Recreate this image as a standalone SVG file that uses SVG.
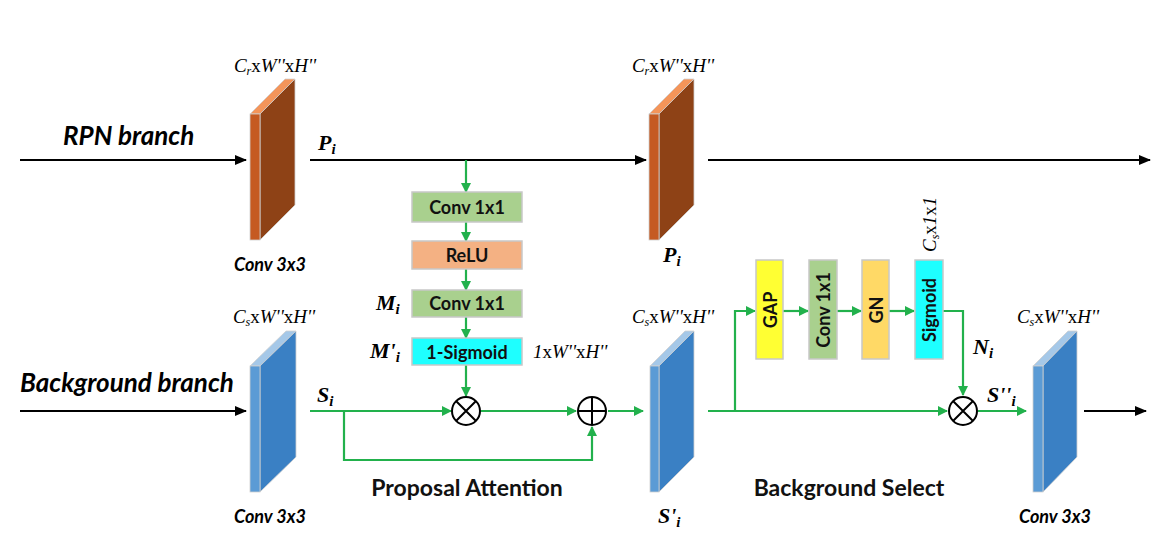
<svg xmlns="http://www.w3.org/2000/svg" width="1166" height="540" viewBox="0 0 1166 540">
<style>
.blk{stroke:#d0d0d0;stroke-width:0.8}
.of{fill:#C55A22}.os{fill:#8E4216}.ot{fill:#F4955A}
.bf{fill:#5B9BD5}.bs{fill:#3A80C4}.bt{fill:#A5C8E8}
.g{stroke:#22B14C;stroke-width:2.2;fill:none}
.k{stroke:#000;stroke-width:2;fill:none}
.box{stroke:#c8c8c8;stroke-width:1.5}
.bt1{font-family:"Lato","Open Sans",sans-serif;font-weight:bold;font-size:18px;fill:#111;text-anchor:middle;dominant-baseline:central}
.lab{font-family:"Lato","Open Sans",sans-serif;font-weight:bold;font-style:italic;fill:#000}
.ttl{font-family:"Lato","Open Sans",sans-serif;font-weight:bold;font-size:23px;fill:#111;text-anchor:middle}
.dim{font-family:"Liberation Serif",serif;font-size:19px;fill:#000}
.m{font-family:"Liberation Serif",serif;font-weight:bold;font-style:italic;font-size:22px;fill:#000}
.op{fill:#fff;stroke:#000;stroke-width:2}
</style>
<defs>
<marker id="ag" markerWidth="10" markerHeight="10" refX="9" refY="5" orient="auto" markerUnits="userSpaceOnUse"><path d="M0,0 L10,5 L0,10 Z" fill="#22B14C"/></marker>
<marker id="ak" markerWidth="12" markerHeight="10" refX="11" refY="5" orient="auto" markerUnits="userSpaceOnUse"><path d="M0,0 L12,5 L0,10 Z" fill="#000"/></marker>
</defs>

<g id="connectors">
<line class="k" x1="20" y1="160" x2="246" y2="160" marker-end="url(#ak)"/>
<line class="k" x1="310" y1="160" x2="646" y2="160" marker-end="url(#ak)"/>
<line class="k" x1="708" y1="160" x2="1150" y2="160" marker-end="url(#ak)"/>
<line class="k" x1="20" y1="411" x2="246" y2="411" marker-end="url(#ak)"/>
<line class="k" x1="1084" y1="411" x2="1146" y2="411" marker-end="url(#ak)"/>
<line class="g" x1="466" y1="160" x2="466" y2="192" marker-end="url(#ag)"/>
<line class="g" x1="466" y1="222" x2="466" y2="241" marker-end="url(#ag)"/>
<line class="g" x1="466" y1="269" x2="466" y2="290" marker-end="url(#ag)"/>
<line class="g" x1="466" y1="317" x2="466" y2="338" marker-end="url(#ag)"/>
<line class="g" x1="466" y1="365" x2="466" y2="396" marker-end="url(#ag)"/>
<line class="g" x1="310" y1="411" x2="451" y2="411" marker-end="url(#ag)"/>
<line class="g" x1="481" y1="411" x2="576" y2="411" marker-end="url(#ag)"/>
<polyline class="g" points="344,411 344,460 592,460 592,427" marker-end="url(#ag)"/>
<line class="g" x1="608" y1="411" x2="643" y2="411" marker-end="url(#ag)"/>
<line class="g" x1="708" y1="411" x2="947" y2="411" marker-end="url(#ag)"/>
<polyline class="g" points="735,411 735,311 755,311" marker-end="url(#ag)"/>
<line class="g" x1="783" y1="311" x2="808" y2="311" marker-end="url(#ag)"/>
<line class="g" x1="837" y1="311" x2="861" y2="311" marker-end="url(#ag)"/>
<line class="g" x1="889" y1="311" x2="914" y2="311" marker-end="url(#ag)"/>
<polyline class="g" points="943,311 963,311 963,395" marker-end="url(#ag)"/>
<line class="g" x1="978" y1="411" x2="1026" y2="411" marker-end="url(#ag)"/>
</g>

<g id="rpn-conv">
<polygon class="ot blk" points="250,114 285,79 295,79 260,114"/>
<polygon class="os blk" points="260,114 295,79 295,205 260,240"/>
<rect class="of blk" x="250" y="114" width="10" height="126"/>
<text class="dim" x="275" y="72" text-anchor="middle"><tspan font-style="italic">C</tspan><tspan font-style="italic" font-size="12" dy="3">r</tspan><tspan dy="-3">x</tspan><tspan font-style="italic">W''</tspan><tspan>x</tspan><tspan font-style="italic">H''</tspan></text>
<text class="lab" x="270" y="271" font-size="18" text-anchor="middle">Conv 3x3</text>
</g>

<g id="rpn-out">
<polygon class="ot blk" points="649,114 684,79 694,79 659,114"/>
<polygon class="os blk" points="659,114 694,79 694,205 659,240"/>
<rect class="of blk" x="649" y="114" width="10" height="126"/>
<text class="dim" x="673" y="72" text-anchor="middle"><tspan font-style="italic">C</tspan><tspan font-style="italic" font-size="12" dy="3">r</tspan><tspan dy="-3">x</tspan><tspan font-style="italic">W''</tspan><tspan>x</tspan><tspan font-style="italic">H''</tspan></text>
<text class="m" x="663" y="262">P<tspan font-size="15" dy="4">i</tspan></text>
</g>

<g id="bg-conv">
<polygon class="bt blk" points="250,366 286,331 296,331 260,366"/>
<polygon class="bs blk" points="260,366 296,331 296,457 260,492"/>
<rect class="bf blk" x="250" y="366" width="10" height="126"/>
<text class="dim" x="274" y="323" text-anchor="middle"><tspan font-style="italic">C</tspan><tspan font-style="italic" font-size="12" dy="3">s</tspan><tspan dy="-3">x</tspan><tspan font-style="italic">W''</tspan><tspan>x</tspan><tspan font-style="italic">H''</tspan></text>
<text class="lab" x="270" y="523" font-size="18" text-anchor="middle">Conv 3x3</text>
</g>

<g id="bg-mid">
<polygon class="bt blk" points="650,366 685,331 694,331 659,366"/>
<polygon class="bs blk" points="659,366 694,331 694,457 659,492"/>
<rect class="bf blk" x="650" y="366" width="9" height="126"/>
<text class="dim" x="673" y="323" text-anchor="middle"><tspan font-style="italic">C</tspan><tspan font-style="italic" font-size="12" dy="3">s</tspan><tspan dy="-3">x</tspan><tspan font-style="italic">W''</tspan><tspan>x</tspan><tspan font-style="italic">H''</tspan></text>
<text class="m" x="658" y="523">S'<tspan font-size="15" dy="4">i</tspan></text>
</g>

<g id="bg-out">
<polygon class="bt blk" points="1033,366 1068,331 1077,331 1043,366"/>
<polygon class="bs blk" points="1043,366 1077,331 1077,457 1043,492"/>
<rect class="bf blk" x="1033" y="366" width="10" height="126"/>
<text class="dim" x="1058" y="323" text-anchor="middle"><tspan font-style="italic">C</tspan><tspan font-style="italic" font-size="12" dy="3">s</tspan><tspan dy="-3">x</tspan><tspan font-style="italic">W''</tspan><tspan>x</tspan><tspan font-style="italic">H''</tspan></text>
<text class="lab" x="1055" y="523" font-size="18" text-anchor="middle">Conv 3x3</text>
</g>

<g id="branch-labels">
<text class="lab" x="63" y="145" font-size="26">RPN branch</text>
<text class="lab" x="20" y="392" font-size="26">Background branch</text>
</g>

<g id="math-labels">
<text class="m" x="318" y="150">P<tspan font-size="15" dy="4">i</tspan></text>
<text class="m" x="317" y="402">S<tspan font-size="15" dy="4">i</tspan></text>
<text class="m" x="376" y="310">M<tspan font-size="15" dy="4">i</tspan></text>
<text class="m" x="370" y="358">M'<tspan font-size="15" dy="4">i</tspan></text>
<text class="dim" x="533" y="358"><tspan font-style="italic">1</tspan>x<tspan font-style="italic">W''</tspan>x<tspan font-style="italic">H''</tspan></text>
<text class="m" x="973" y="354">N<tspan font-size="15" dy="4">i</tspan></text>
<text class="m" x="987" y="402">S''<tspan font-size="15" dy="4">i</tspan></text>
<text class="dim" transform="translate(936,252) rotate(-90)"><tspan font-style="italic">C</tspan><tspan font-style="italic" font-size="12" dy="3">s</tspan><tspan dy="-3">x</tspan><tspan font-style="italic">1</tspan>x<tspan font-style="italic">1</tspan></text>
</g>

<g id="conv1">
<rect class="box" x="412" y="192" width="110" height="30" fill="#A9D08E"/>
<text class="bt1" x="467" y="207">Conv 1x1</text>
</g>
<g id="relu">
<rect class="box" x="412" y="241" width="110" height="28" fill="#F4B183"/>
<text class="bt1" x="467" y="255">ReLU</text>
</g>
<g id="conv2">
<rect class="box" x="412" y="290" width="110" height="27" fill="#A9D08E"/>
<text class="bt1" x="467" y="303">Conv 1x1</text>
</g>
<g id="sig1">
<rect class="box" x="412" y="338" width="110" height="27" fill="#1EFFFF"/>
<text class="bt1" x="467" y="352">1-Sigmoid</text>
</g>

<g id="mul1">
<circle class="op" cx="466" cy="411" r="14"/>
<path d="M456,401 L476,421 M476,401 L456,421" stroke="#000" stroke-width="2"/>
</g>
<g id="add1">
<circle class="op" cx="592" cy="411" r="14"/>
<path d="M578,411 L606,411 M592,397 L592,425" stroke="#000" stroke-width="2"/>
</g>
<g id="mul2">
<circle class="op" cx="963" cy="411" r="14"/>
<path d="M953,401 L973,421 M973,401 L953,421" stroke="#000" stroke-width="2"/>
</g>

<g id="gap">
<rect class="box" x="756" y="260" width="27" height="99" fill="#FFFF33"/>
<text class="bt1" transform="translate(770,310) rotate(-90)">GAP</text>
</g>
<g id="conv3">
<rect class="box" x="809" y="260" width="28" height="99" fill="#A9D08E"/>
<text class="bt1" transform="translate(823,310) rotate(-90)">Conv 1x1</text>
</g>
<g id="gn">
<rect class="box" x="862" y="260" width="27" height="99" fill="#FFD966"/>
<text class="bt1" transform="translate(876,310) rotate(-90)">GN</text>
</g>
<g id="sig2">
<rect class="box" x="915" y="260" width="28" height="99" fill="#1EFFFF"/>
<text class="bt1" transform="translate(929,310) rotate(-90)">Sigmoid</text>
</g>

<g id="titles">
<text class="ttl" x="467" y="496">Proposal Attention</text>
<text class="ttl" x="849" y="496">Background Select</text>
</g>
</svg>
